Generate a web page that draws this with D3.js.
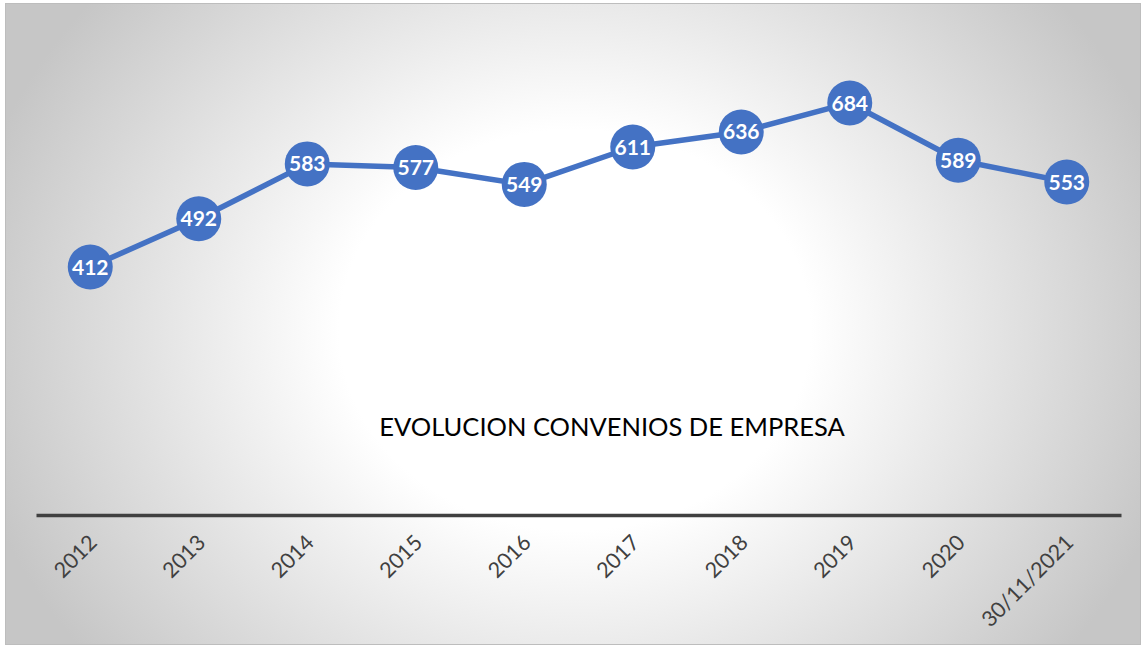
<!DOCTYPE html>
<html><head><meta charset="utf-8">
<script src="https://cdn.jsdelivr.net/npm/d3@7"></script>
<style>html,body{margin:0;padding:0;background:#fff;}svg{display:block;}</style>
</head><body>
<script>
const categories = ["2012","2013","2014","2015","2016","2017","2018","2019","2020","30/11/2021"];
const values = [412,492,583,577,549,611,636,684,589,553];
const title = "EVOLUCION CONVENIOS DE EMPRESA";
const yDomain = [0, 800];

const W = 1144, H = 647;
const svg = d3.select("body").append("svg").attr("width", W).attr("height", H);
const defs = svg.append("defs");
const rg = defs.append("radialGradient").attr("id","bg")
  .attr("gradientUnits","userSpaceOnUse").attr("cx",575).attr("cy",330).attr("r",620)
  .attr("gradientTransform","translate(575,330) scale(1,0.85) translate(-575,-330)");
rg.append("stop").attr("offset","0%").attr("stop-color","#ffffff");
rg.append("stop").attr("offset","38%").attr("stop-color","#ffffff");
rg.append("stop").attr("offset","100%").attr("stop-color","#c6c6c6");

svg.append("rect").attr("x",5.5).attr("y",3.5).attr("width",1135).attr("height",641)
  .attr("fill","url(#bg)").attr("stroke","#bdbdbd").attr("stroke-width",1);

const x = d3.scaleBand().domain(categories).range([36, 1121]);
const y = d3.scaleLinear().domain(yDomain).range([515.5, 33]);

// axis
const xAxis = d3.axisBottom(x).tickSize(0).tickPadding(0);
const gx = svg.append("g").attr("transform","translate(0,515)").call(xAxis);
gx.select(".domain").attr("stroke","#404040").attr("stroke-width",3.5);
gx.selectAll(".tick text")
  .attr("font-family","Lato, 'Open Sans', sans-serif").attr("font-size",21.5).attr("fill","#404040")
  .attr("text-anchor","end").attr("dy",0).attr("y",0)
  .attr("transform", "translate(8,29) rotate(-45)");

// title
svg.append("text").attr("x",612).attr("y",436).attr("text-anchor","middle")
  .attr("font-family","Lato, 'Open Sans', sans-serif").attr("font-size",25.5).attr("fill","#000")
  .text(title);

const cx = d => x(d) + x.bandwidth()/2;
const line = d3.line().x((d,i)=>cx(categories[i])).y(d=>y(d));
svg.append("path").datum(values).attr("d",line).attr("fill","none")
  .attr("stroke","#4472C4").attr("stroke-width",5.5).attr("stroke-linejoin","round");

svg.selectAll("circle.m").data(values).enter().append("circle")
  .attr("cx",(d,i)=>cx(categories[i])).attr("cy",d=>y(d)).attr("r",22.5)
  .attr("fill","#4472C4");

svg.selectAll("text.l").data(values).enter().append("text")
  .attr("x",(d,i)=>cx(categories[i])).attr("y",d=>y(d)).attr("dy","0.36em")
  .attr("text-anchor","middle").attr("font-family","Lato, 'Open Sans', sans-serif")
  .attr("font-weight","bold").attr("font-size",21).attr("fill","#fff")
  .text(d=>d);
</script>
</body></html>
